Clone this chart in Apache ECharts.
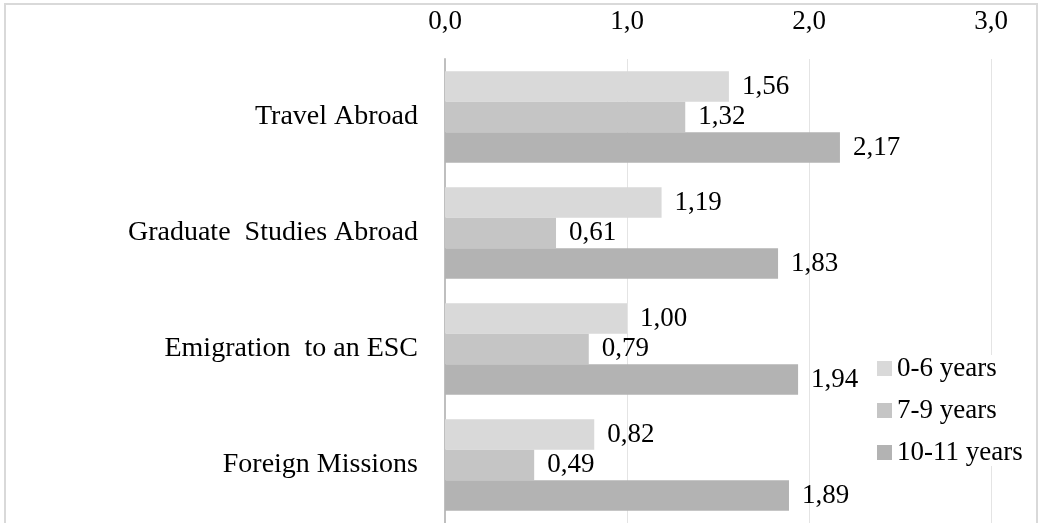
<!DOCTYPE html>
<html>
<head>
<meta charset="utf-8">
<script src="https://cdn.jsdelivr.net/npm/echarts@6/dist/echarts.min.js"></script>
<style>
html,body{margin:0;padding:0;background:#fff;}
#c{width:1040px;height:523px;}
</style>
</head>
<body>
<div id="c"></div>
<script>
const categories = ["Travel Abroad", "Graduate  Studies Abroad", "Emigration  to an ESC", "Foreign Missions"];
const seriesNames = ["0-6 years", "7-9 years", "10-11 years"];
const vals0to6 = [1.56, 1.19, 1.00, 0.82];
const vals7to9 = [1.32, 0.61, 0.79, 0.49];
const vals10to11 = [2.17, 1.83, 1.94, 1.89];
const tickLabels = ["0,0", "1,0", "2,0", "3,0"];

const FONT = "'Liberation Serif', 'Times New Roman', serif";
const colors = ["#d9d9d9", "#c5c5c5", "#b3b3b3"];
const seriesData = [vals0to6, vals7to9, vals10to11];

const chart = echarts.init(document.getElementById('c'), null, {renderer: 'canvas'});
chart.setOption({
  animation: false,
  backgroundColor: '#ffffff',
  graphic: [{
    type: 'rect',
    shape: {x: 5, y: 4, width: 1032, height: 540},
    style: {fill: 'none', stroke: '#d9d9d9', lineWidth: 2},
    z: 0
  }],
  grid: {left: 445, right: 49, top: 59, bottom: 0, containLabel: false},
  xAxis: {
    type: 'value',
    position: 'top',
    min: 0, max: 3, interval: 1,
    axisLine: {show: false},
    axisTick: {show: false},
    splitLine: {show: true, lineStyle: {color: '#e4e4e4', width: 1}},
    axisLabel: {
      margin: 24,
      color: '#000',
      fontFamily: FONT,
      fontSize: 27,
      formatter: function (v) { return tickLabels[Math.round(v)]; }
    }
  },
  yAxis: {
    type: 'category',
    data: categories,
    inverse: true,
    axisLine: {show: true, lineStyle: {color: '#bfbfbf', width: 2}},
    axisTick: {show: false},
    axisLabel: {margin: 27, color: '#000', fontFamily: FONT, fontSize: 28}
  },
  legend: {
    orient: 'vertical',
    left: 877, top: 355,
    padding: 0,
    itemWidth: 15, itemHeight: 15, itemGap: 15,
    icon: 'rect',
    backgroundColor: '#ffffff',
    textStyle: {color: '#000', fontFamily: FONT, fontSize: 27, lineHeight: 27},
    data: seriesNames
  },
  series: seriesNames.map(function (name, i) {
    return {
      name: name,
      type: 'bar',
      data: seriesData[i],
      barGap: '0%',
      barCategoryGap: '21%',
      itemStyle: {color: colors[i]},
      label: {
        show: true,
        position: 'right',
        distance: 13,
        color: '#000',
        fontFamily: FONT,
        fontSize: 27,
        formatter: function (p) { return p.value.toFixed(2).replace('.', ','); }
      }
    };
  })
});
</script>
</body>
</html>
